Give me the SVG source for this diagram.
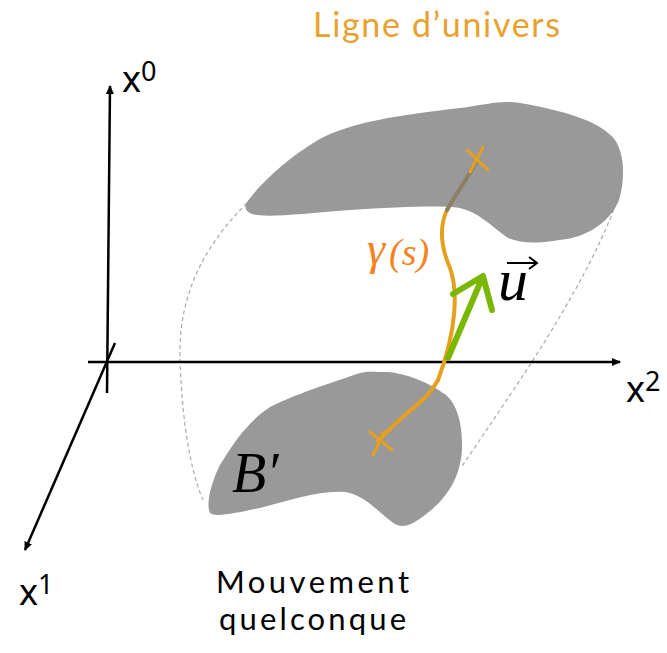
<svg xmlns="http://www.w3.org/2000/svg" width="667" height="653" viewBox="0 0 667 653">
<style>
.axis{stroke:#000;stroke-width:2.5;fill:none}
.blob{fill:#999999;stroke:none}
.dash{stroke:#aaaaaa;stroke-width:1.2;fill:none;stroke-dasharray:4 3}
.wl{stroke:#E5A020;stroke-width:4;fill:none;stroke-linecap:round}
.xm{stroke:#E5A020;stroke-width:3;stroke-linecap:round}
.ax{font-family:"Noto Sans","Liberation Sans",sans-serif;fill:#000}
.lab{font-family:Lato,"Liberation Sans",sans-serif}
.math{font-family:"Liberation Serif","DejaVu Serif",serif;font-style:italic}
</style>
<defs>
<marker id="ah" markerUnits="userSpaceOnUse" markerWidth="9" markerHeight="8" refX="8" refY="4" orient="auto">
<path d="M0,0 L9,4 L0,8 z" fill="#000"/>
</marker>
</defs>
<g id="dashed-links">
<path class="dash" d="M247,203 C200,250 178,300 180,360 C182,420 190,470 203,500"/>
<path class="dash" d="M616,203 C600,250 560,320 520,380 C500,410 480,440 462,466"/>
</g>
<g id="body-bottom">
<path class="blob" d="M360,373 C340,380 300,392 270,407 C250,420 235,440 220,465 C210,485 206,505 210,513 C215,518 240,512 260,508 C290,500 320,490 345,492 C365,495 378,512 392,522 C402,530 412,525 425,515 C445,500 460,480 462,450 C463,420 455,400 443,393 C425,380 400,372 385,372 C375,372 368,371 360,373 Z"/>
</g>
<g id="body-top">
<path class="blob" d="M247,202 C262,182 285,160 318,140 C350,122 400,115 460,108 C490,104 500,100 520,103 C560,110 600,120 615,140 C625,155 625,180 619,200 C612,218 595,232 572,238 C545,243 525,245 508,238 C490,225 478,212 460,208 C440,205 400,207 350,210 C300,214 265,218 252,214 C245,211 244,206 247,202 Z"/>
</g>
<g id="axes">
<line class="axis" x1="107" y1="393" x2="110" y2="86" marker-end="url(#ah)"/>
<line class="axis" x1="88" y1="362" x2="620" y2="362" marker-end="url(#ah)"/>
<line class="axis" x1="115" y1="343" x2="25" y2="550" marker-end="url(#ah)"/>
</g>
<g id="axis-labels">
<text class="ax" x="122" y="92" font-size="36">x<tspan font-size="27" dy="-11">0</tspan></text>
<text class="ax" x="19" y="605" font-size="36">x<tspan font-size="27" dy="-11">1</tspan></text>
<text class="ax" x="626" y="402" font-size="36">x<tspan font-size="27" dy="-11">2</tspan></text>
</g>
<g id="world-line">
<path class="wl" d="M438,380 C430,395 420,402 405,415 C395,424 387,432 378,441"/>
<path class="wl" d="M447,210 C440,225 440,245 450,268 C458,290 457,330 438,380"/>
<path d="M477,160 C470,175 455,195 447,210" fill="none" stroke="#8c7f62" stroke-width="4" stroke-linecap="round"/>
<line class="xm" x1="467" y1="150" x2="488" y2="170"/>
<line class="xm" x1="483" y1="147" x2="470" y2="172"/>
<line class="xm" x1="370" y1="432" x2="392" y2="450"/>
<line class="xm" x1="384" y1="432" x2="373" y2="455"/>
</g>
<g id="velocity">
<path d="M448,358 L483,276 M453,294 L483,276 L492,310" fill="none" stroke="#7AB800" stroke-width="6" stroke-linecap="round" stroke-linejoin="round"/>
</g>
<g id="labels">
<text x="313" y="37" class="lab" font-size="34" fill="#E8A12D" textLength="247" lengthAdjust="spacing">Ligne d’univers</text>
<text x="367" y="264" class="math" font-size="46" fill="#F58220" font-family="DejaVu Serif">γ</text>
<text x="389" y="265" class="math" font-size="38" fill="#F58220" font-style="normal">(<tspan font-style="italic">s</tspan>)</text>
<text x="498" y="300" class="math" font-size="60" fill="#000">u</text>
<path d="M507,263 L536,263 M529,257 L537,263 L529,269" fill="none" stroke="#000" stroke-width="2"/>
<text x="232" y="492" class="math" font-size="56" fill="#000">B′</text>
<text x="216" y="593" class="lab" font-size="31" fill="#000" textLength="193" lengthAdjust="spacing">Mouvement</text>
<text x="219" y="630" class="lab" font-size="31" fill="#000" textLength="187" lengthAdjust="spacing">quelconque</text>
</g>
</svg>
